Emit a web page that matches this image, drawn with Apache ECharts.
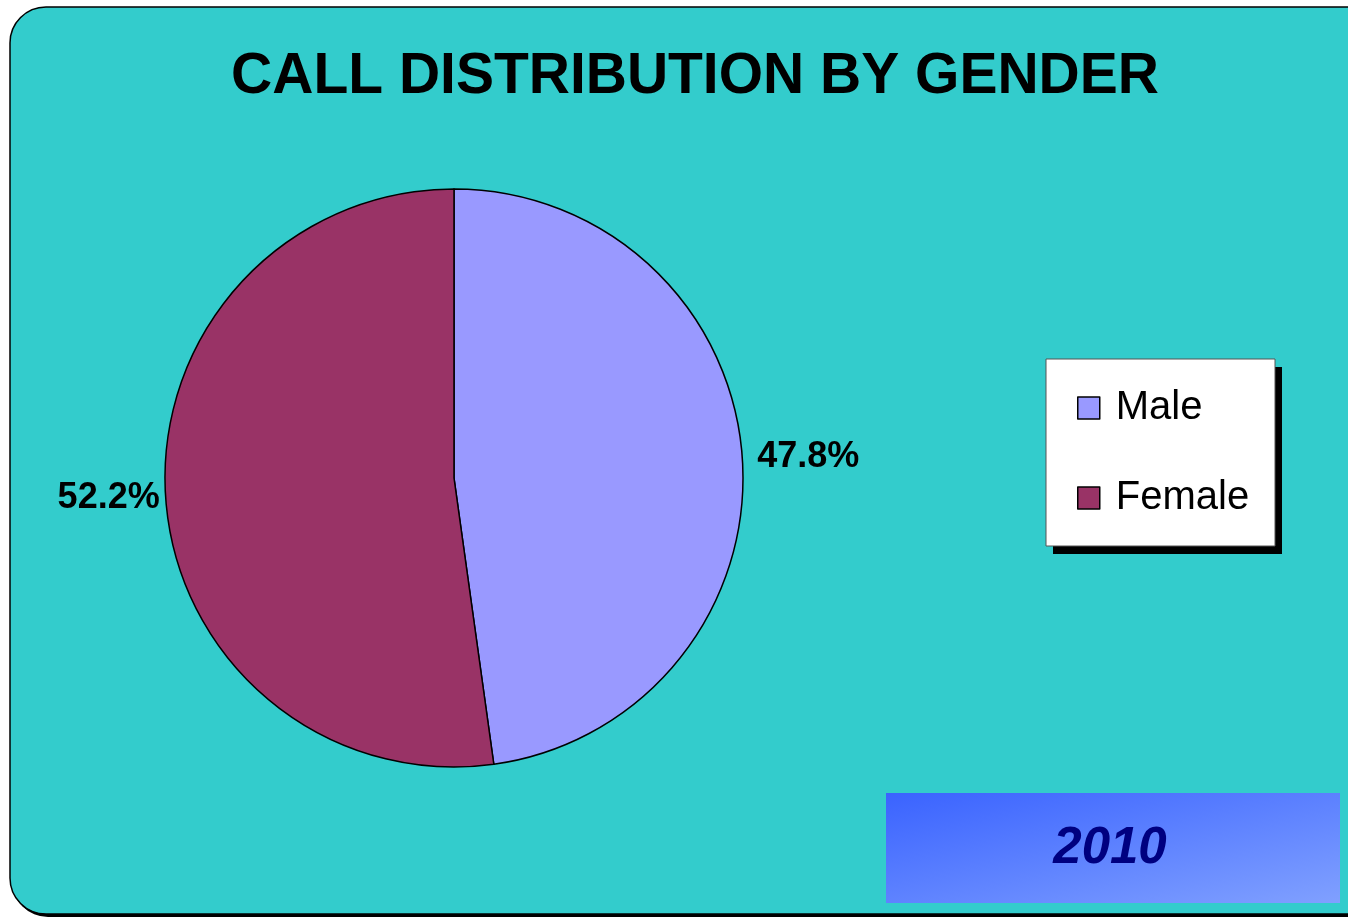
<!DOCTYPE html>
<html>
<head>
<meta charset="utf-8">
<script src="https://cdn.jsdelivr.net/npm/echarts@6/dist/echarts.min.js"></script>
<style>
  html, body { margin: 0; padding: 0; background: #fff; }
  #chart { width: 1348px; height: 918px; }
</style>
</head>
<body>
<div id="chart"></div>
<script>
const titleText = "CALL DISTRIBUTION BY GENDER";
const yearText = "2010";
const categories = ["Male", "Female"];
const shares = [47.8, 52.2];
const colors = ["#9999FF", "#993366"];

const chart = echarts.init(document.getElementById("chart"));
const font = "Liberation Sans, Arial, sans-serif";

let option = {
  animation: false,
  textStyle: { fontFamily: font },
  title: {
    text: titleText,
    left: 690,
    top: 44,
    textAlign: "center",
    textStyle: { fontSize: 57, fontWeight: "bold", color: "#000", fontFamily: font }
  },
  graphic: [
    // chart area: hard shadow first, then the box itself
    {
      type: "rect",
      z: -11,
      shape: { x: 12, y: 10, width: 1380, height: 907, r: 36 },
      style: { fill: "#000" }
    },
    {
      type: "rect",
      z: -10,
      shape: { x: 10, y: 7, width: 1380, height: 907, r: 36 },
      style: { fill: "#33CCCC", stroke: "#000", lineWidth: 1.5 }
    },
    // legend box with hard shadow
    {
      type: "rect",
      z: -6,
      shape: { x: 1053, y: 367, width: 229, height: 187 },
      style: { fill: "#000" }
    },
    {
      type: "rect",
      z: -5,
      shape: { x: 1046, y: 359, width: 229, height: 187 },
      style: { fill: "#fff", stroke: "#555", lineWidth: 1 }
    },
    {
      type: "rect",
      z: -5,
      shape: { x: 886, y: 793, width: 454, height: 110 },
      style: {
        fill: new echarts.graphic.LinearGradient(886, 793, 931, 994, [
          { offset: 0, color: "#3A63FF" },
          { offset: 1, color: "#80A0FF" }
        ], true)
      }
    },
    {
      type: "text",
      z: 5,
      x: 1110,
      y: 849,
      style: {
        text: yearText,
        fill: "#000080",
        font: "italic bold 51px " + font,
        align: "center",
        verticalAlign: "middle"
      }
    }
  ],
  legend: {
    orient: "vertical",
    left: 1067,
    top: 378,
    padding: [10, 10, 10, 10],
    itemGap: 50,
    itemWidth: 22,
    itemHeight: 22,
    itemStyle: { borderColor: "#000", borderWidth: 1.5 },
    icon: "rect",
    data: categories,
    textStyle: { fontSize: 40, color: "#000", fontFamily: font, lineHeight: 40, padding: [0, 0, 0, 11] }
  },
  series: [
    {
      type: "pie",
      center: [454, 478],
      radius: 289,
      startAngle: 90,
      clockwise: true,
      avoidLabelOverlap: false,
      itemStyle: { borderColor: "#000", borderWidth: 1.5 },
      label: {
        show: true,
        position: "outside",
        formatter: p => p.value.toFixed(1) + "%",
        fontSize: 36,
        fontWeight: "bold",
        color: "#000",
        fontFamily: font
      },
      labelLine: { show: false, length: 8, length2: 2 },
      emphasis: { disabled: true },
      data: categories.map((name, i) => ({
        name: name,
        value: shares[i],
        itemStyle: { color: colors[i] },
        labelLine: i === 1 ? { length: 1, length2: 0 } : undefined
      }))
    }
  ]
};

chart.setOption(option);
</script>
</body>
</html>
